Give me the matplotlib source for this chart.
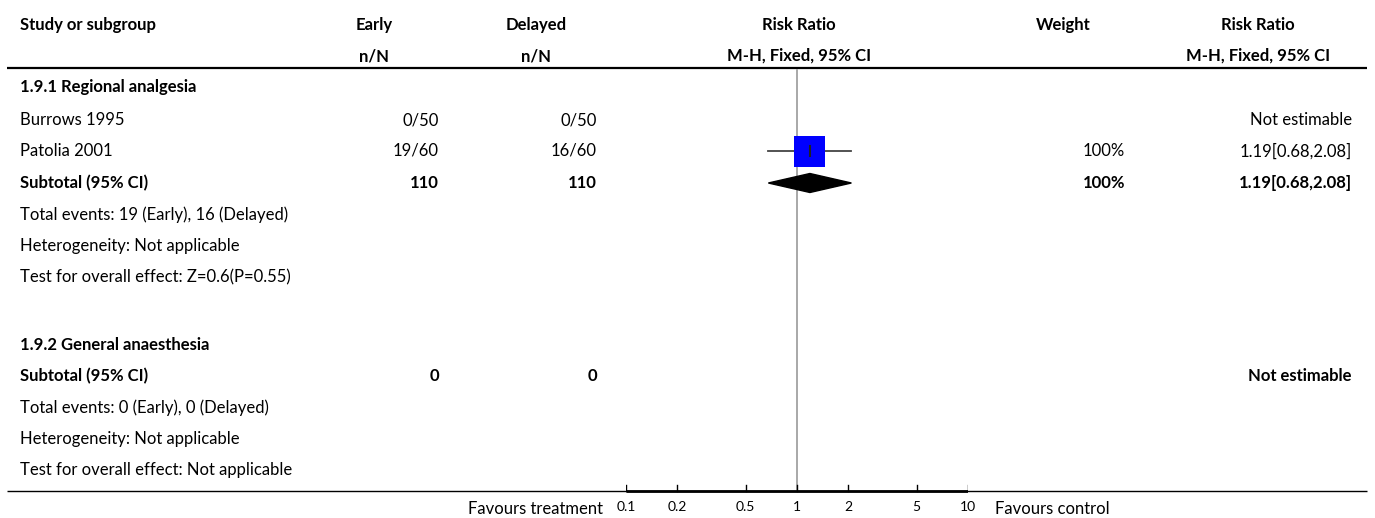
import matplotlib
matplotlib.use("Agg")
import matplotlib.pyplot as plt
from matplotlib.patches import Polygon, Rectangle
import numpy as np

plt.rcParams['font.family'] = ['Lato', 'DejaVu Sans']

# ---- data ----
header_cols = ["Study or subgroup", "Early", "Delayed", "Risk Ratio", "Weight", "Risk Ratio"]
header_sub = ["", "n/N", "n/N", "M-H, Fixed, 95% CI", "", "M-H, Fixed, 95% CI"]

row_labels = ["1.9.1 Regional analgesia", "Burrows 1995", "Patolia 2001", "Subtotal (95% CI)",
              "Total events: 19 (Early), 16 (Delayed)", "Heterogeneity: Not applicable",
              "Test for overall effect: Z=0.6(P=0.55)",
              "1.9.2 General anaesthesia", "Subtotal (95% CI)",
              "Total events: 0 (Early), 0 (Delayed)", "Heterogeneity: Not applicable",
              "Test for overall effect: Not applicable"]
row_kind = ["group", "study", "study", "subtotal", "note", "note", "note",
            "group", "subtotal", "note", "note", "note"]
early = ["", "0/50", "19/60", "110", "", "", "", "", "0", "", "", ""]
delayed = ["", "0/50", "16/60", "110", "", "", "", "", "0", "", "", ""]
weight = ["", "", "100%", "100%", "", "", "", "", "", "", "", ""]
rr_text = ["", "Not estimable", "1.19[0.68,2.08]", "1.19[0.68,2.08]", "", "", "", "",
           "Not estimable", "", "", ""]
rr = [None, None, 1.19, 1.19, None, None, None, None, None, None, None, None]
rr_lo = [None, None, 0.68, 0.68, None, None, None, None, None, None, None, None]
rr_hi = [None, None, 2.08, 2.08, None, None, None, None, None, None, None, None]
weight_pct = [None, None, 100, 100, None, None, None, None, None, None, None, None]

axis_ticks = [0.1, 0.2, 0.5, 1, 2, 5, 10]
axis_tick_labels = ["0.1", "0.2", "0.5", "1", "2", "5", "10"]
favours_left = "Favours treatment"
favours_right = "Favours control"

# ---- layout (pixels) ----
W, H = 1375, 518
row_y = [87, 120, 151, 183, 215, 246, 277, 345, 376, 408, 439, 470]
hdr_y1, hdr_y2, hdr_line = 25, 56, 68
bottom_line = 491
fs = 12
txt_left = 20

fig = plt.figure(figsize=(W / 100, H / 100), dpi=100)
ax = fig.add_axes([0, 0, 1, 1])
ax.set_xlim(0, W)
ax.set_ylim(H, 0)
ax.axis('off')

# forest axes
fx0, fx1 = 626, 968
axf = fig.add_axes([fx0 / W, 0, (fx1 - fx0) / W, 1])
axf.set_xscale('log')
axf.set_xlim(axis_ticks[0], axis_ticks[-1])
axf.set_ylim(H, 0)
axf.axis('off')
axf.patch.set_alpha(0)

# headers
hx = [txt_left, 374, 536, 799, 1063, 1258]
for i, (t, s) in enumerate(zip(header_cols, header_sub)):
    ha = 'left' if i == 0 else 'center'
    ax.text(hx[i], hdr_y1, t, ha=ha, va='center', fontsize=fs, fontweight='bold')
    if s:
        ax.text(hx[i], hdr_y2, s, ha=ha, va='center', fontsize=fs, fontweight='bold')
ax.plot([7, 1367], [hdr_line, hdr_line], color='black', lw=1.6, solid_capstyle='butt')

# rows
for i, y in enumerate(row_y):
    bold = row_kind[i] in ("group", "subtotal")
    fw = 'bold' if bold else 'normal'
    ax.text(txt_left, y, row_labels[i], ha='left', va='center', fontsize=fs, fontweight=fw)
    if early[i]:
        ax.text(439, y, early[i], ha='right', va='center', fontsize=fs, fontweight=fw)
    if delayed[i]:
        ax.text(597, y, delayed[i], ha='right', va='center', fontsize=fs, fontweight=fw)
    if weight[i]:
        ax.text(1125, y, weight[i], ha='right', va='center', fontsize=fs, fontweight=fw)
    if rr_text[i]:
        ax.text(1352, y, rr_text[i], ha='right', va='center', fontsize=fs, fontweight=fw)

# null line
axf.plot([1, 1], [hdr_line + 2, bottom_line], color='#999999', lw=1.2)

# markers
dec = (fx1 - fx0) / 2.0  # pixels per decade
for i, y in enumerate(row_y):
    if rr[i] is None:
        continue
    if row_kind[i] == "study":
        axf.plot([rr_lo[i], rr_hi[i]], [y, y], color='#444444', lw=1.3)
        half = 15.5 * np.sqrt(weight_pct[i] / 100)
        lx = np.log10(rr[i])
        x0 = 10 ** (lx - half / dec)
        x1 = 10 ** (lx + half / dec)
        axf.add_patch(Rectangle((x0, y - half), x1 - x0, 2 * half, facecolor='#0000ff',
                                edgecolor='none', zorder=3))
        axf.plot([rr[i], rr[i]], [y - 5, y + 5], color='#222222', lw=1.5, zorder=4)
    else:
        poly = Polygon([(rr_lo[i], y), (rr[i], y - 9.5), (rr_hi[i], y), (rr[i], y + 9.5)],
                       closed=True, facecolor='black', edgecolor='black', zorder=3)
        axf.add_patch(poly)

# bottom axis
ax.plot([7, 1367], [bottom_line, bottom_line], color='black', lw=1.0, solid_capstyle='butt')
axf.plot([axis_ticks[0], axis_ticks[-1]], [bottom_line, bottom_line], color='black', lw=2.0,
         solid_capstyle='butt')
for t, lab in zip(axis_ticks, axis_tick_labels):
    axf.plot([t, t], [bottom_line, bottom_line - 6], color='black', lw=1.0)
    axf.text(t, 507, lab, ha='center', va='center', fontsize=10)
ax.text(603, 509, favours_left, ha='right', va='center', fontsize=fs)
ax.text(995, 509, favours_right, ha='left', va='center', fontsize=fs)

fig.savefig("out.png", dpi=100)
